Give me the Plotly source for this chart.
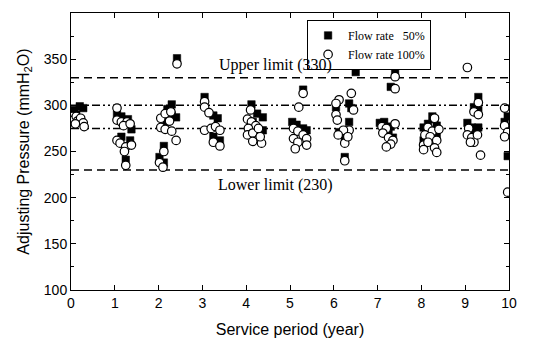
import plotly.graph_objects as go

# ---- data ----
x50 = [0.03, 0.08, 0.20, 0.28, 0.12,
       1.05, 1.15, 1.30, 1.38, 1.15, 1.35, 1.25,
       2.02, 2.12, 2.12, 2.30, 2.20, 2.30, 2.40, 2.18, 2.42,
       3.05, 3.25, 3.35, 3.25, 3.40,
       4.12, 4.25, 4.38, 4.15, 4.38,
       5.30, 5.05, 5.15, 5.30, 5.38,
       6.50, 6.05, 6.35, 6.40, 6.35, 6.12, 6.25, 6.25, 6.25,
       7.40, 7.30, 7.05, 7.15, 7.30, 7.25, 7.35,
       8.25, 8.30, 8.15, 8.05, 8.35, 8.15, 8.35, 8.05, 8.25,
       9.30, 9.20, 9.30, 9.05, 9.15, 9.30, 9.20,
       9.97, 9.90, 9.97]
y50 = [295, 292, 299, 297, 290,
       290, 288, 285, 274, 266, 262, 241,
       244, 256, 238, 301, 296, 289, 287, 282, 351,
       309, 289, 286, 266, 262,
       301, 291, 287, 282, 273,
       317, 282, 279, 275, 273,
       336, 298, 302, 297, 282, 271, 268, 261, 244,
       335, 320, 281, 282, 277, 272, 265,
       288, 285, 280, 276, 278, 268, 266, 262, 262,
       309, 298, 295, 281, 276, 276, 270,
       288, 282, 245]

x100 = [0.03, 0.05, 0.12, 0.15, 0.22, 0.28, 0.30, 0.10,
        1.05, 1.05, 1.15, 1.28, 1.20, 1.35, 1.05, 1.12, 1.25, 1.38, 1.22, 1.25,
        2.02, 2.12, 2.10, 2.05, 2.15, 2.28, 2.25, 2.05, 2.15, 2.30, 2.40, 2.42,
        3.05, 3.05, 3.15, 3.05, 3.20, 3.30, 3.40, 3.25, 3.40,
        4.10, 4.03, 4.12, 4.22, 4.05, 4.03, 4.15, 4.28, 4.15, 4.35, 4.32,
        5.30, 5.20, 5.08, 5.18, 5.08, 5.30, 5.38, 5.18, 5.38, 5.12,
        6.40, 6.12, 6.05, 6.45, 6.05, 6.08, 6.35, 6.22, 6.10, 6.25, 6.32, 6.25,
        7.40, 7.40, 7.10, 7.20, 7.40, 7.12, 7.25, 7.35, 7.30, 7.20,
        8.30, 8.15, 8.25, 8.40, 8.08, 8.20, 8.35, 8.05, 8.15, 8.30, 8.35, 8.05,
        9.05, 9.30, 9.20, 9.30, 9.08, 9.05, 9.15, 9.20, 9.12, 9.28, 9.35,
        9.90, 9.90, 9.97, 9.90, 9.97]
y100 = [288, 284, 288, 283, 286, 281, 277, 280,
        297, 284, 282, 282, 278, 280, 262, 259, 255, 257, 250, 235,
        238, 250, 233, 286, 291, 293, 283, 276, 274, 272, 262, 345,
        304, 298, 292, 273, 275, 277, 273, 260, 256,
        295, 285, 282, 278, 275, 268, 270, 275, 261, 259, 266,
        313, 298, 275, 272, 264, 268, 264, 260, 257, 253,
        313, 306, 302, 295, 290, 284, 273, 273, 268, 259, 266, 240,
        331, 318, 277, 275, 280, 270, 265, 262, 258, 255,
        286, 276, 272, 274, 268, 266, 262, 257, 260, 254, 249, 252,
        341, 303, 293, 290, 275, 268, 265, 260, 260, 268, 246,
        297, 278, 271, 266, 206]

limit_values = [330, 300, 275, 230]
limit_styles = ["8px,5px", "8px,3px,2px,3px,2px,3px", "8px,3px,2px,3px,2px,3px", "8px,5px"]
x_span = [0, 10]

fig = go.Figure()

for v, d in zip(limit_values, limit_styles):
    fig.add_trace(go.Scatter(x=x_span, y=[v, v], mode="lines",
                             line=dict(color="black", width=1.5, dash=d),
                             showlegend=False, hoverinfo="skip"))

fig.add_trace(go.Scatter(x=x50, y=y50, mode="markers", name="Flow rate\u00a0\u00a0\u00a050%",
                         marker=dict(symbol="square", size=7.5, color="black",
                                     line=dict(color="black", width=0.5))))
fig.add_trace(go.Scatter(x=x100, y=y100, mode="markers", name="Flow rate 100%",
                         marker=dict(symbol="circle", size=8.5, color="white",
                                     line=dict(color="black", width=1.2))))

fig.add_annotation(x=4.66, y=343.5, text="Upper limit (330)", showarrow=False,
                   font=dict(family="Liberation Serif", size=16, color="black"))
fig.add_annotation(x=4.66, y=213.5, text="Lower limit (230)", showarrow=False,
                   font=dict(family="Liberation Serif", size=16, color="black"))

axis_common = dict(showline=True, linecolor="black", linewidth=1, mirror="ticks",
                   ticks="inside", ticklen=5, tickcolor="black", showgrid=False,
                   zeroline=False, automargin=False,
                   tickfont=dict(family="Liberation Sans", size=14, color="black"))

fig.update_xaxes(range=[0, 10], tickvals=list(range(0, 11)),
                 title=dict(text="Service period (year)", standoff=14,
                            font=dict(family="Liberation Sans", size=16, color="black")),
                 **axis_common)
fig.update_yaxes(range=[100, 400], tickvals=list(range(100, 401, 50)),
                 minor=dict(tickvals=list(range(125, 400, 50)), ticks="inside", ticklen=3, tickcolor="black"),
                 title=dict(text="Adjusting Pressure (mmH<sub>2</sub>O)", standoff=10,
                            font=dict(family="Liberation Sans", size=16, color="black")),
                 **axis_common)

# page body adds an 8px offset; compensate so the plot area lands where the reference has it
fig.update_layout(
    width=532, height=333,
    margin=dict(l=63, r=31, t=5, b=51),
    paper_bgcolor="white", plot_bgcolor="white",
    legend=dict(x=0.539, y=0.975, xanchor="left", yanchor="top",
                bgcolor="white", bordercolor="black", borderwidth=1,
                font=dict(family="Liberation Serif", size=12, color="black"),
                itemwidth=30, tracegroupgap=0),
)

fig.write_html("out.html")
